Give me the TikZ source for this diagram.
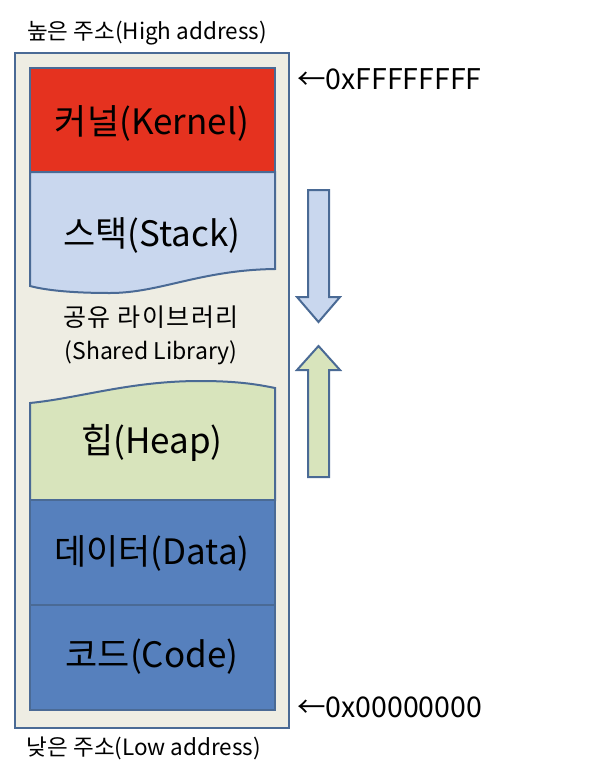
\documentclass[tikz,border=0pt]{standalone}
\usepackage{fontspec}
\setmainfont{Noto Sans CJK KR}
\definecolor{frameblue}{HTML}{4A6A95}
\definecolor{beige}{HTML}{EEEDE3}
\definecolor{kernelred}{HTML}{E5321F}
\definecolor{stackblue}{HTML}{C9D7EE}
\definecolor{heapgreen}{HTML}{D8E4BC}
\definecolor{datablue}{HTML}{5680BD}
\begin{document}
\begin{tikzpicture}[x=1pt,y=-1pt,
  seg/.style={draw=frameblue,line width=2pt},
  big/.style={font=\fontsize{35}{38}\selectfont,inner sep=0pt},
  mid/.style={font=\fontsize{23}{26}\selectfont,inner sep=0pt},
  midkr/.style={font=\fontsize{25}{28}\selectfont\addfontfeature{LetterSpace=6},inner sep=0pt},
  captext/.style={font=\fontsize{22.5}{25}\selectfont,inner sep=0pt},
  addr/.style={font=\fontsize{28.5}{32}\selectfont,inner sep=0pt,anchor=west},
  growarrow/.style={draw=frameblue,line width=2pt,line join=miter}]
\useasboundingbox (0,0) rectangle (590,774);
% outer frame
\node[seg,fill=beige,minimum width=274pt,minimum height=675pt,inner sep=0pt] (frame) at (152,390.5) {};
% kernel
\node[seg,fill=kernelred,minimum width=245pt,minimum height=104pt,inner sep=0pt] (kernel) at (152.5,120) {};
% stack
\path[seg,fill=stackblue] (30,172) -- (275,172) -- (275,269)
  .. controls (200,270) and (160,293) .. (110,293)
  .. controls (70,293) and (45,290) .. (30,286) -- cycle;
% heap
\path[seg,fill=heapgreen] (30,500) -- (30,403)
  .. controls (80,398) and (130,381) .. (200,381)
  .. controls (240,381) and (260,385) .. (275,388) -- (275,500) -- cycle;
% data, code
\node[seg,fill=datablue,minimum width=245pt,minimum height=105pt,inner sep=0pt] (data) at (152.5,552.5) {};
\node[seg,fill=datablue,minimum width=245pt,minimum height=105pt,inner sep=0pt] (code) at (152.5,657.5) {};
% labels
\node[captext] (high) at (147,33) {높은 주소(High address)};
\node[big] (kt) at (152,123) {커널(Kernel)};
\node[big] (st) at (152,235) {스택(Stack)};
\node[midkr] (sl1) at (151,317) {공유 라이브러리};
\node[mid] (sl2) at (151,353) {(Shared Library)};
\node[big] (ht) at (152,443) {힙(Heap)};
\node[big] (dt) at (152,553) {데이터(Data)};
\node[big] (ct) at (152,657) {코드(Code)};
\node[captext] (low) at (144,748) {낮은 주소(Low address)};
\node[addr] (ffff) at (297,79) {←0xFFFFFFFF};
\node[addr] (zero) at (297,707) {←0x00000000};
% growth arrows
\path[growarrow,fill=stackblue] (308,190) -- (329,190) -- (329,297) -- (340,297)
  -- (318.5,322) -- (297,297) -- (308,297) -- cycle;
\path[growarrow,fill=heapgreen] (308,477) -- (329,477) -- (329,370) -- (340,370)
  -- (318.5,346) -- (297,370) -- (308,370) -- cycle;
\end{tikzpicture}
\end{document}
